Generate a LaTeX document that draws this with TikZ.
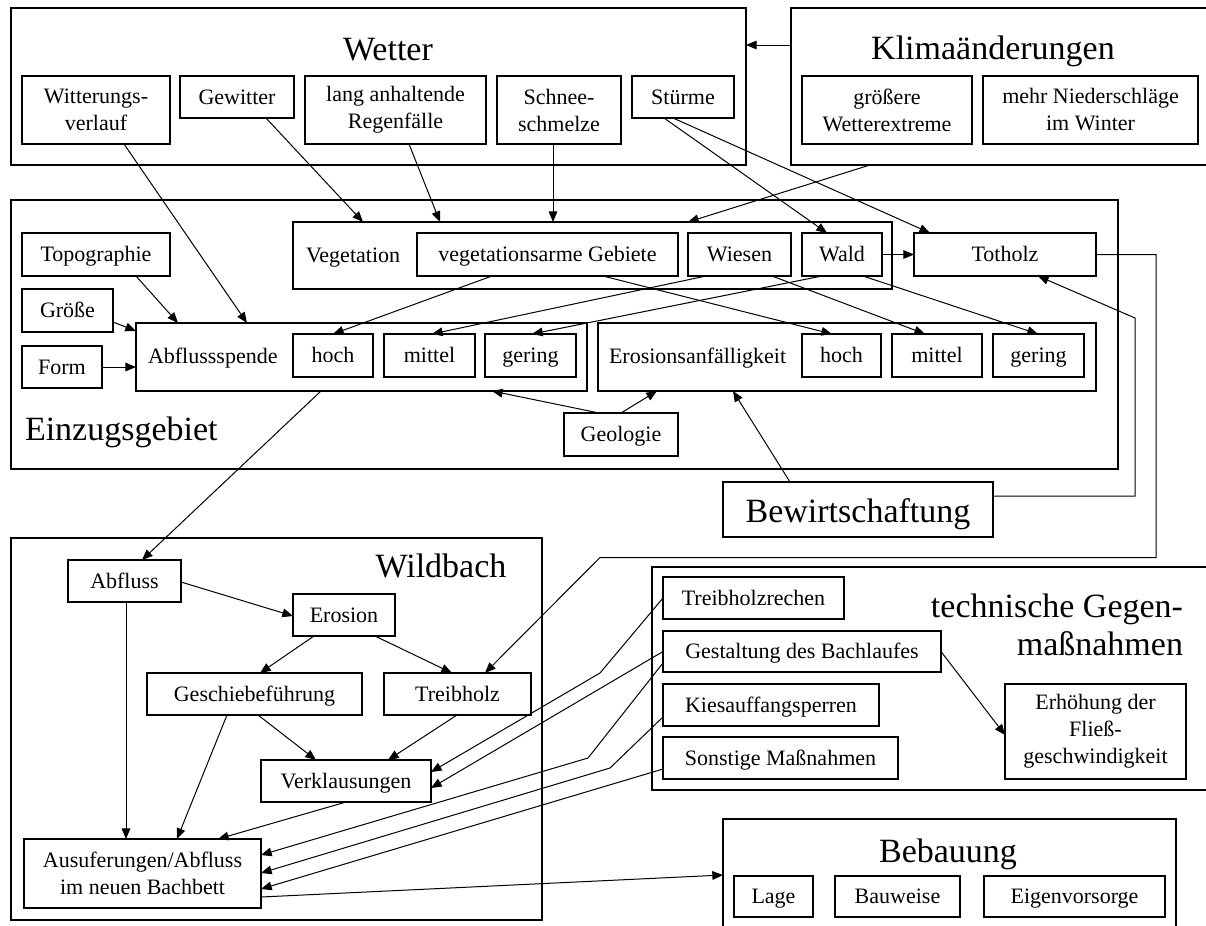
\documentclass[tikz,border=0pt]{standalone}
\usepackage{fontspec}
\setmainfont{Liberation Serif}
\usetikzlibrary{arrows.meta,calc}

\tikzset{
  % place a rectangular node by its corners x1/y1/x2/y2 (picture units)
  boxat/.style args={#1/#2/#3/#4}{at={({(#1+#3)/2},{(#2+#4)/2})},
    minimum width={(#3-#1)*0.75pt}, minimum height={(#4-#2)*0.75pt}},
  smallfont/.style={font=\fontsize{16.5}{20.25}\selectfont},
  bigfont/.style={font=\fontsize{25.5}{28.5}\selectfont},
  group/.style={draw, line width=1.1pt, inner sep=0pt, outer sep=0pt},
  boxed/.style={draw, line width=1.1pt, inner sep=0pt, outer sep=0pt, align=center, smallfont},
  % single-line boxes: fixed text height/depth keep all baselines level
  item/.style={boxed, text height=14pt, text depth=3pt},
  itemml/.style={boxed},
  keyitem/.style={item, line width=1.5pt},
  bigitem/.style={boxed, bigfont, text height=22pt, text depth=3pt},
  smalltext/.style={inner sep=0pt, outer sep=0pt, smallfont},
  bigtext/.style={inner sep=0pt, outer sep=0pt, bigfont},
  arr/.style={-{Triangle[length=8pt,width=6.5pt]}, line width=0.75pt},
}

\begin{document}
\begin{tikzpicture}[x=0.75pt,y=-0.75pt]
\useasboundingbox (0,0) rectangle (1206,925);
\fill[white] (0,0) rectangle (1206,925);
\clip (0,0) rectangle (1206,925);

% ---------- frames of the main areas ----------
\node[group, boxat=11/8/746/165]    (wetter) {};
\node[group, boxat=791/8/1220/165]  (klima)  {};
\node[group, boxat=11/200/1118/469] (ezg)    {};
\node[group, boxat=11/538/542/920]  (wild)   {};
\node[group, boxat=652/567/1220/790](tech)   {};
\node[group, boxat=723/819/1176/940](beb)    {};

% ---------- titles ----------
\node[bigtext, anchor=base] (wettertitle) at (388,60) {Wetter};
\node[bigtext, anchor=base] (klimatitle) at (993,59) {Klimaänderungen};
\node[bigtext, anchor=base west] (ezgtitle) at (25,440) {Einzugsgebiet};
\node[bigtext, anchor=base] (wildtitle) at (441,577) {Wildbach};
\node[bigtext, anchor=north east, align=right] (techtitle) at (1183,594) {technische Gegen-\\maßnahmen};
\node[bigtext, anchor=base] (bebtitle) at (948,862) {Bebauung};

% ---------- Wetter ----------
\node[itemml, boxat=22/76/170/144]  (witt)    {Witterungs-\\verlauf};
\node[item,   boxat=180/76/294/118] (gew)     {Gewitter};
\node[itemml, boxat=305/76/486/144] (regen)   {lang anhaltende\\Regenfälle};
\node[itemml, boxat=497/76/621/144] (schnee)  {Schnee-\\schmelze};
\node[item,   boxat=632/76/734/118] (stuerme) {Stürme};

% ---------- Klimaänderungen ----------
\node[itemml, boxat=802/76/972/144]  (groesser) {größere\\Wetterextreme};
\node[itemml, boxat=983/76/1198/144] (mehr)     {mehr Niederschläge\\im Winter};

% ---------- Einzugsgebiet ----------
\node[item, boxat=22/233/170/276] (topo)    {Topographie};
\node[item, boxat=22/289/113/332] (groesse) {Größe};
\node[item, boxat=22/346/102/388] (form)    {Form};

\node[keyitem, boxat=293/222/892/289] (veg) {};
\node[smalltext, anchor=base west] (vegtitle) at (306,262) {Vegetation};
\node[keyitem, boxat=417/233/678/276] (varm)   {vegetationsarme Gebiete};
\node[keyitem, boxat=688/233/791/276] (wiesen) {Wiesen};
\node[keyitem, boxat=802/233/882/276] (wald)   {Wald};
\node[item, boxat=914/233/1096/276]   (totholz) {Totholz};

\node[keyitem, boxat=136/323/587/391] (abfl) {};
\node[smalltext, anchor=base west] (abfltitle) at (148,363) {Abflussspende};
\node[keyitem, boxat=293/334/373/377] (ahoch)   {hoch};
\node[keyitem, boxat=384/334/475/377] (amittel) {mittel};
\node[keyitem, boxat=485/334/576/377] (agering) {gering};

\node[keyitem, boxat=598/323/1096/391] (eros) {};
\node[smalltext, anchor=base west] (erostitle) at (609,363) {Erosionsanfälligkeit};
\node[keyitem, boxat=802/334/881/377]  (ehoch)   {hoch};
\node[keyitem, boxat=892/334/982/377]  (emittel) {mittel};
\node[keyitem, boxat=993/334/1084/377] (egering) {gering};

\node[item, boxat=564/413/678/456] (geo) {Geologie};
\node[bigitem, boxat=723/482/993/537] (bew) {Bewirtschaftung};

% ---------- Wildbach ----------
\node[item, boxat=68/560/181/602]  (abfluss) {Abfluss};
\node[item, boxat=293/594/395/636] (erosion) {Erosion};
\node[item, boxat=147/673/362/715] (gesch)   {Geschiebeführung};
\node[item, boxat=384/673/531/715] (treib)   {Treibholz};
\node[item, boxat=261/760/431/802] (verkl)   {Verklausungen};
\node[itemml, boxat=24/839/261/908] (ausuf)  {Ausuferungen/Abfluss\\im neuen Bachbett};

% ---------- technische Gegenmaßnahmen ----------
\node[item, boxat=663/577/844/619] (trechen) {Treibholzrechen};
\node[item, boxat=663/631/941/672] (gestalt) {Gestaltung des Bachlaufes};
\node[item, boxat=663/684/879/726] (kies)    {Kiesauffangsperren};
\node[item, boxat=663/737/898/779] (sonst)   {Sonstige Maßnahmen};
\node[itemml, boxat=1005/684/1186/779] (erh) {Erhöhung der\\Fließ-\\geschwindigkeit};

% ---------- Bebauung ----------
\node[item, boxat=734/876/813/917]  (lage)     {Lage};
\node[item, boxat=835/876/960/917]  (bauweise) {Bauweise};
\node[item, boxat=984/876/1165/917] (eigen)    {Eigenvorsorge};

% ---------- connectors ----------
\draw[arr] ($(klima.north west)+(0,37)$) -- ($(wetter.north east)+(0,37)$);
\draw[arr] ($(witt.south west)+(102,0)$) -- ($(abfl.north west)+(111,0)$);
\draw[arr] ($(gew.south west)+(86,0)$) -- ($(veg.north west)+(70,0)$);
\draw[arr] ($(regen.south west)+(104,0)$) -- ($(veg.north west)+(147,0)$);
\draw[arr] ($(schnee.south west)+(56,0)$) -- ($(veg.north west)+(260,0)$);
\draw[arr] ($(stuerme.south west)+(32,0)$) -- ($(wald.north west)+(25,0)$);
\draw[arr] ($(stuerme.south west)+(41,0)$) -- ($(totholz.north west)+(16,0)$);
\draw[arr] ($(klima.south west)+(79,0)$) -- ($(veg.north west)+(395,0)$);
\draw[arr] (wald.east) -- (totholz.west);

\draw[arr] ($(topo.south west)+(114,0)$) -- ($(abfl.north west)+(42,0)$);
\draw[arr] ($(groesse.north east)+(0,33)$) -- ($(abfl.north west)+(0,8)$);
\draw[arr] (form.east) -- (form.east -| abfl.west);

\draw[arr] ($(varm.south west)+(75,0)$) -- (ahoch.north);
\draw[arr] ($(wiesen.south west)+(18,0)$) -- ($(amittel.north west)+(48,0)$);
\draw[arr] ($(wald.south west)+(20,0)$) -- ($(agering.north west)+(47,0)$);
\draw[arr] ($(varm.south west)+(186,0)$) -- ($(ehoch.north west)+(30,0)$);
\draw[arr] ($(wiesen.south west)+(84,0)$) -- ($(emittel.north west)+(33,0)$);
\draw[arr] ($(wald.south west)+(61,0)$) -- ($(egering.north west)+(45,0)$);

\draw[arr] ($(geo.north west)+(35,0)$) -- ($(abfl.south west)+(356,0)$);
\draw[arr] ($(geo.north west)+(57,0)$) -- ($(eros.south west)+(59,0)$);
\draw[arr] ($(bew.north west)+(67,0)$) -- ($(eros.south west)+(135,0)$);
\draw[arr] ($(bew.north east)+(0,14)$) -- ++(142,0) -- ++(0,-178) -- ($(totholz.south west)+(124,0)$);
\draw[arr] (totholz.east) -- ++(60,0) -- ++(0,303) -- ++(-556,0) -- ($(treib.north west)+(101,0)$);

\draw[arr] ($(abfl.south west)+(185,0)$) -- ($(abfluss.north west)+(74,0)$);
\draw[arr] ($(abfluss.north east)+(0,22)$) -- ($(erosion.north west)+(0,22)$);
\draw[arr] ($(erosion.south west)+(21,0)$) -- ($(gesch.north west)+(113,0)$);
\draw[arr] ($(erosion.south west)+(82,0)$) -- ($(treib.north west)+(68,0)$);
\draw[arr] ($(gesch.south west)+(111,0)$) -- ($(verkl.north west)+(55,0)$);
\draw[arr] ($(treib.south west)+(73,0)$) -- ($(verkl.north west)+(127,0)$);
\draw[arr] ($(gesch.south west)+(80,0)$) -- ($(ausuf.north west)+(153,0)$);
\draw[arr] ($(abfluss.south west)+(58,0)$) -- ($(ausuf.north west)+(102,0)$);
\draw[arr] ($(verkl.south west)+(85,0)$) -- ($(ausuf.north west)+(194,0)$);

\draw[arr] (trechen.west) -- ++(-63,75) -- ($(verkl.north east)+(0,12)$);
\draw[arr] (gestalt.west) -- ($(verkl.north east)+(0,28)$);
\draw[arr] ($(gestalt.north west)+(0,32)$) -- ++(-75,95) -- ($(ausuf.north east)+(0,16)$);
\draw[arr] ($(kies.north west)+(0,33)$) -- ++(-53,51) -- ($(ausuf.north east)+(0,34)$);
\draw[arr] ($(sonst.north west)+(0,32)$) -- ($(ausuf.north east)+(0,50)$);
\draw[arr] (gestalt.east) -- ($(erh.north west)+(0,51)$);
\draw[arr] ($(ausuf.north east)+(0,58)$) -- ($(beb.north west)+(0,56)$);
\end{tikzpicture}
\end{document}
